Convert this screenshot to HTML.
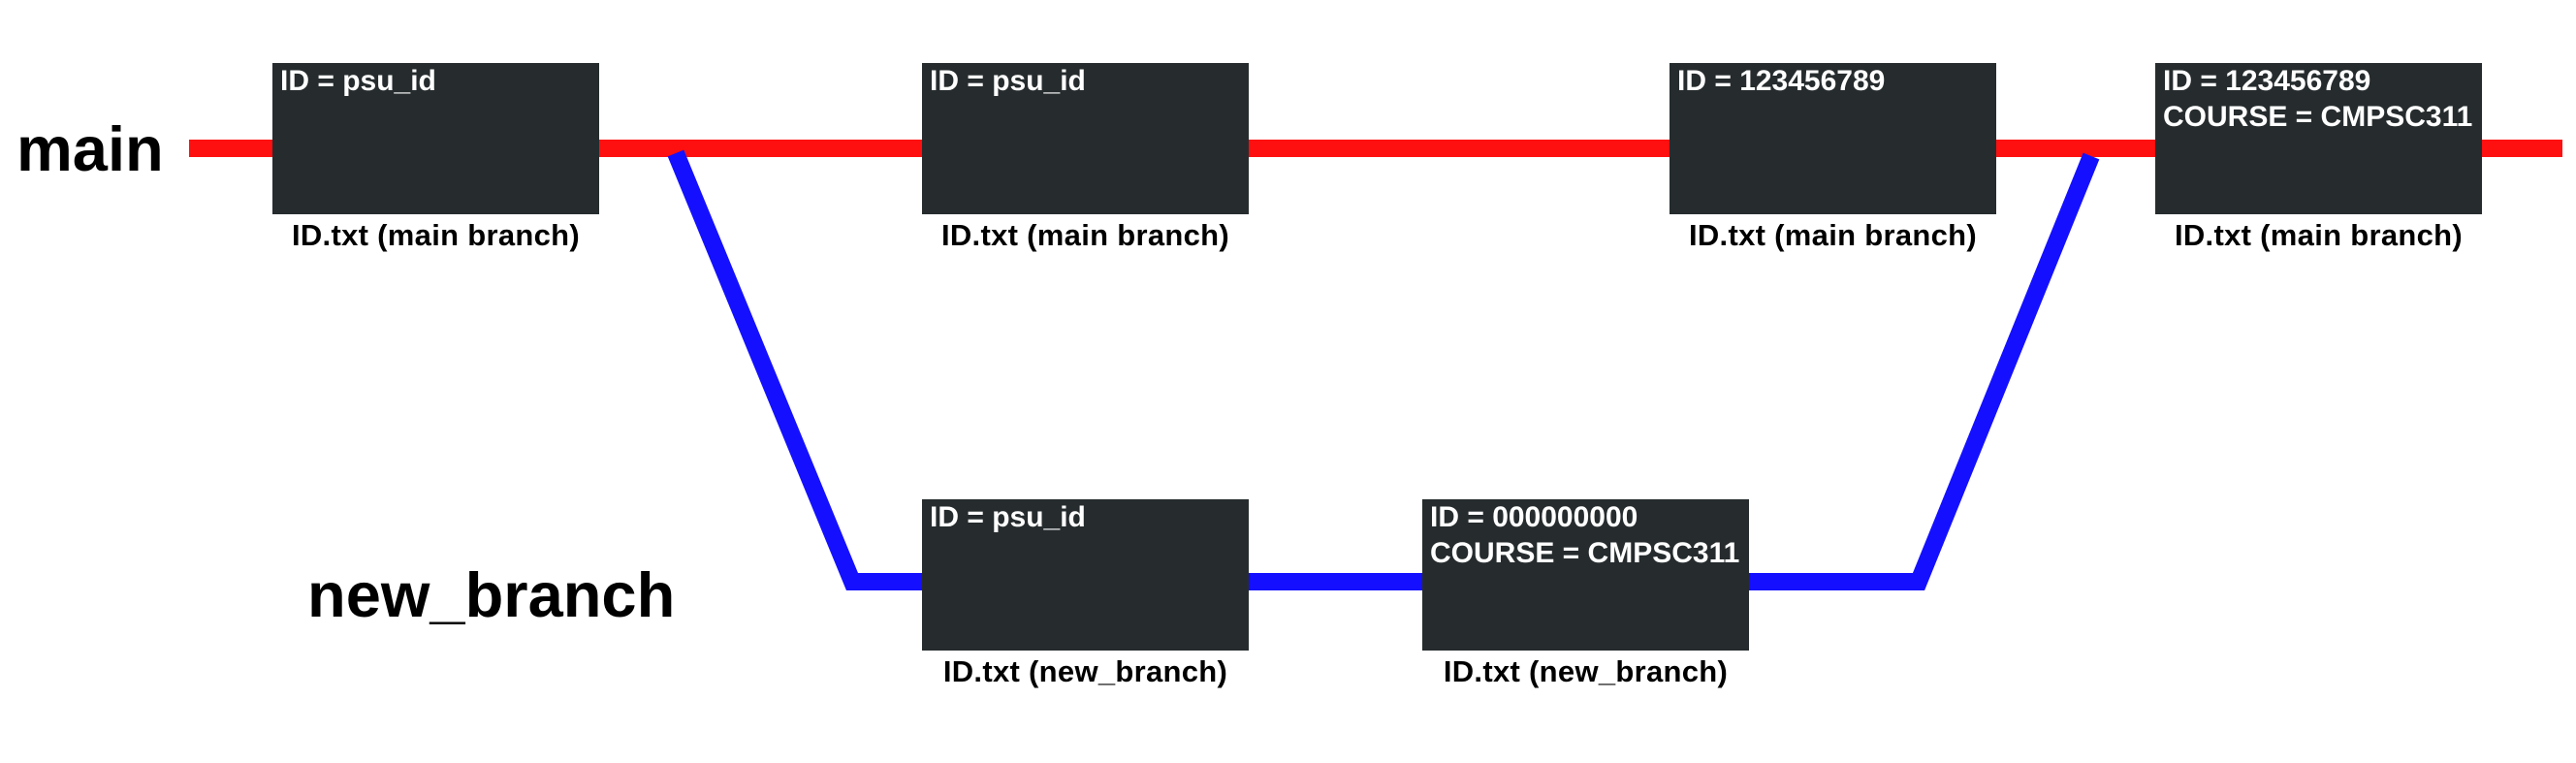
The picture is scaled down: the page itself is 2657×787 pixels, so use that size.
<!DOCTYPE html>
<html><head><meta charset="utf-8"><style>
html,body{margin:0;padding:0;background:#fff;}
body{width:2657px;height:787px;position:relative;overflow:hidden;font-family:"Liberation Sans",sans-serif;font-weight:bold;}
.box{position:absolute;width:337px;height:156px;background:#262c2e;color:#fff;font-size:30px;line-height:37px;box-sizing:border-box;padding:0 0 0 8px;white-space:nowrap;}
.lbl{position:absolute;width:337px;text-align:center;font-size:31px;color:#000;white-space:nowrap;letter-spacing:0.3px;}
.big{position:absolute;font-size:65px;color:#000;line-height:1;}
svg{position:absolute;left:0;top:0;}
</style></head><body>
<svg width="2657" height="787">
<line x1="195" y1="153" x2="2643" y2="153" stroke="#ff1010" stroke-width="18"/>
<polyline points="697,158 879,600 1979,600 2157,161" fill="none" stroke="#1410ff" stroke-width="18"/>
</svg>
<div class="big" style="left:17px;top:121px;">main</div>
<div class="big" style="left:317px;top:581px;">new_branch</div>

<div class="box" style="left:281px;top:65px;">ID = psu_id</div>
<div class="lbl" style="left:281px;top:225px;">ID.txt (main branch)</div>
<div class="box" style="left:951px;top:65px;">ID = psu_id</div>
<div class="lbl" style="left:951px;top:225px;">ID.txt (main branch)</div>
<div class="box" style="left:1722px;top:65px;">ID = 123456789</div>
<div class="lbl" style="left:1722px;top:225px;">ID.txt (main branch)</div>
<div class="box" style="left:2223px;top:65px;">ID = 123456789<br>COURSE = CMPSC311</div>
<div class="lbl" style="left:2223px;top:225px;">ID.txt (main branch)</div>

<div class="box" style="left:951px;top:515px;">ID = psu_id</div>
<div class="lbl" style="left:951px;top:675px;">ID.txt (new_branch)</div>
<div class="box" style="left:1467px;top:515px;">ID = 000000000<br>COURSE = CMPSC311</div>
<div class="lbl" style="left:1467px;top:675px;">ID.txt (new_branch)</div>
</body></html>
